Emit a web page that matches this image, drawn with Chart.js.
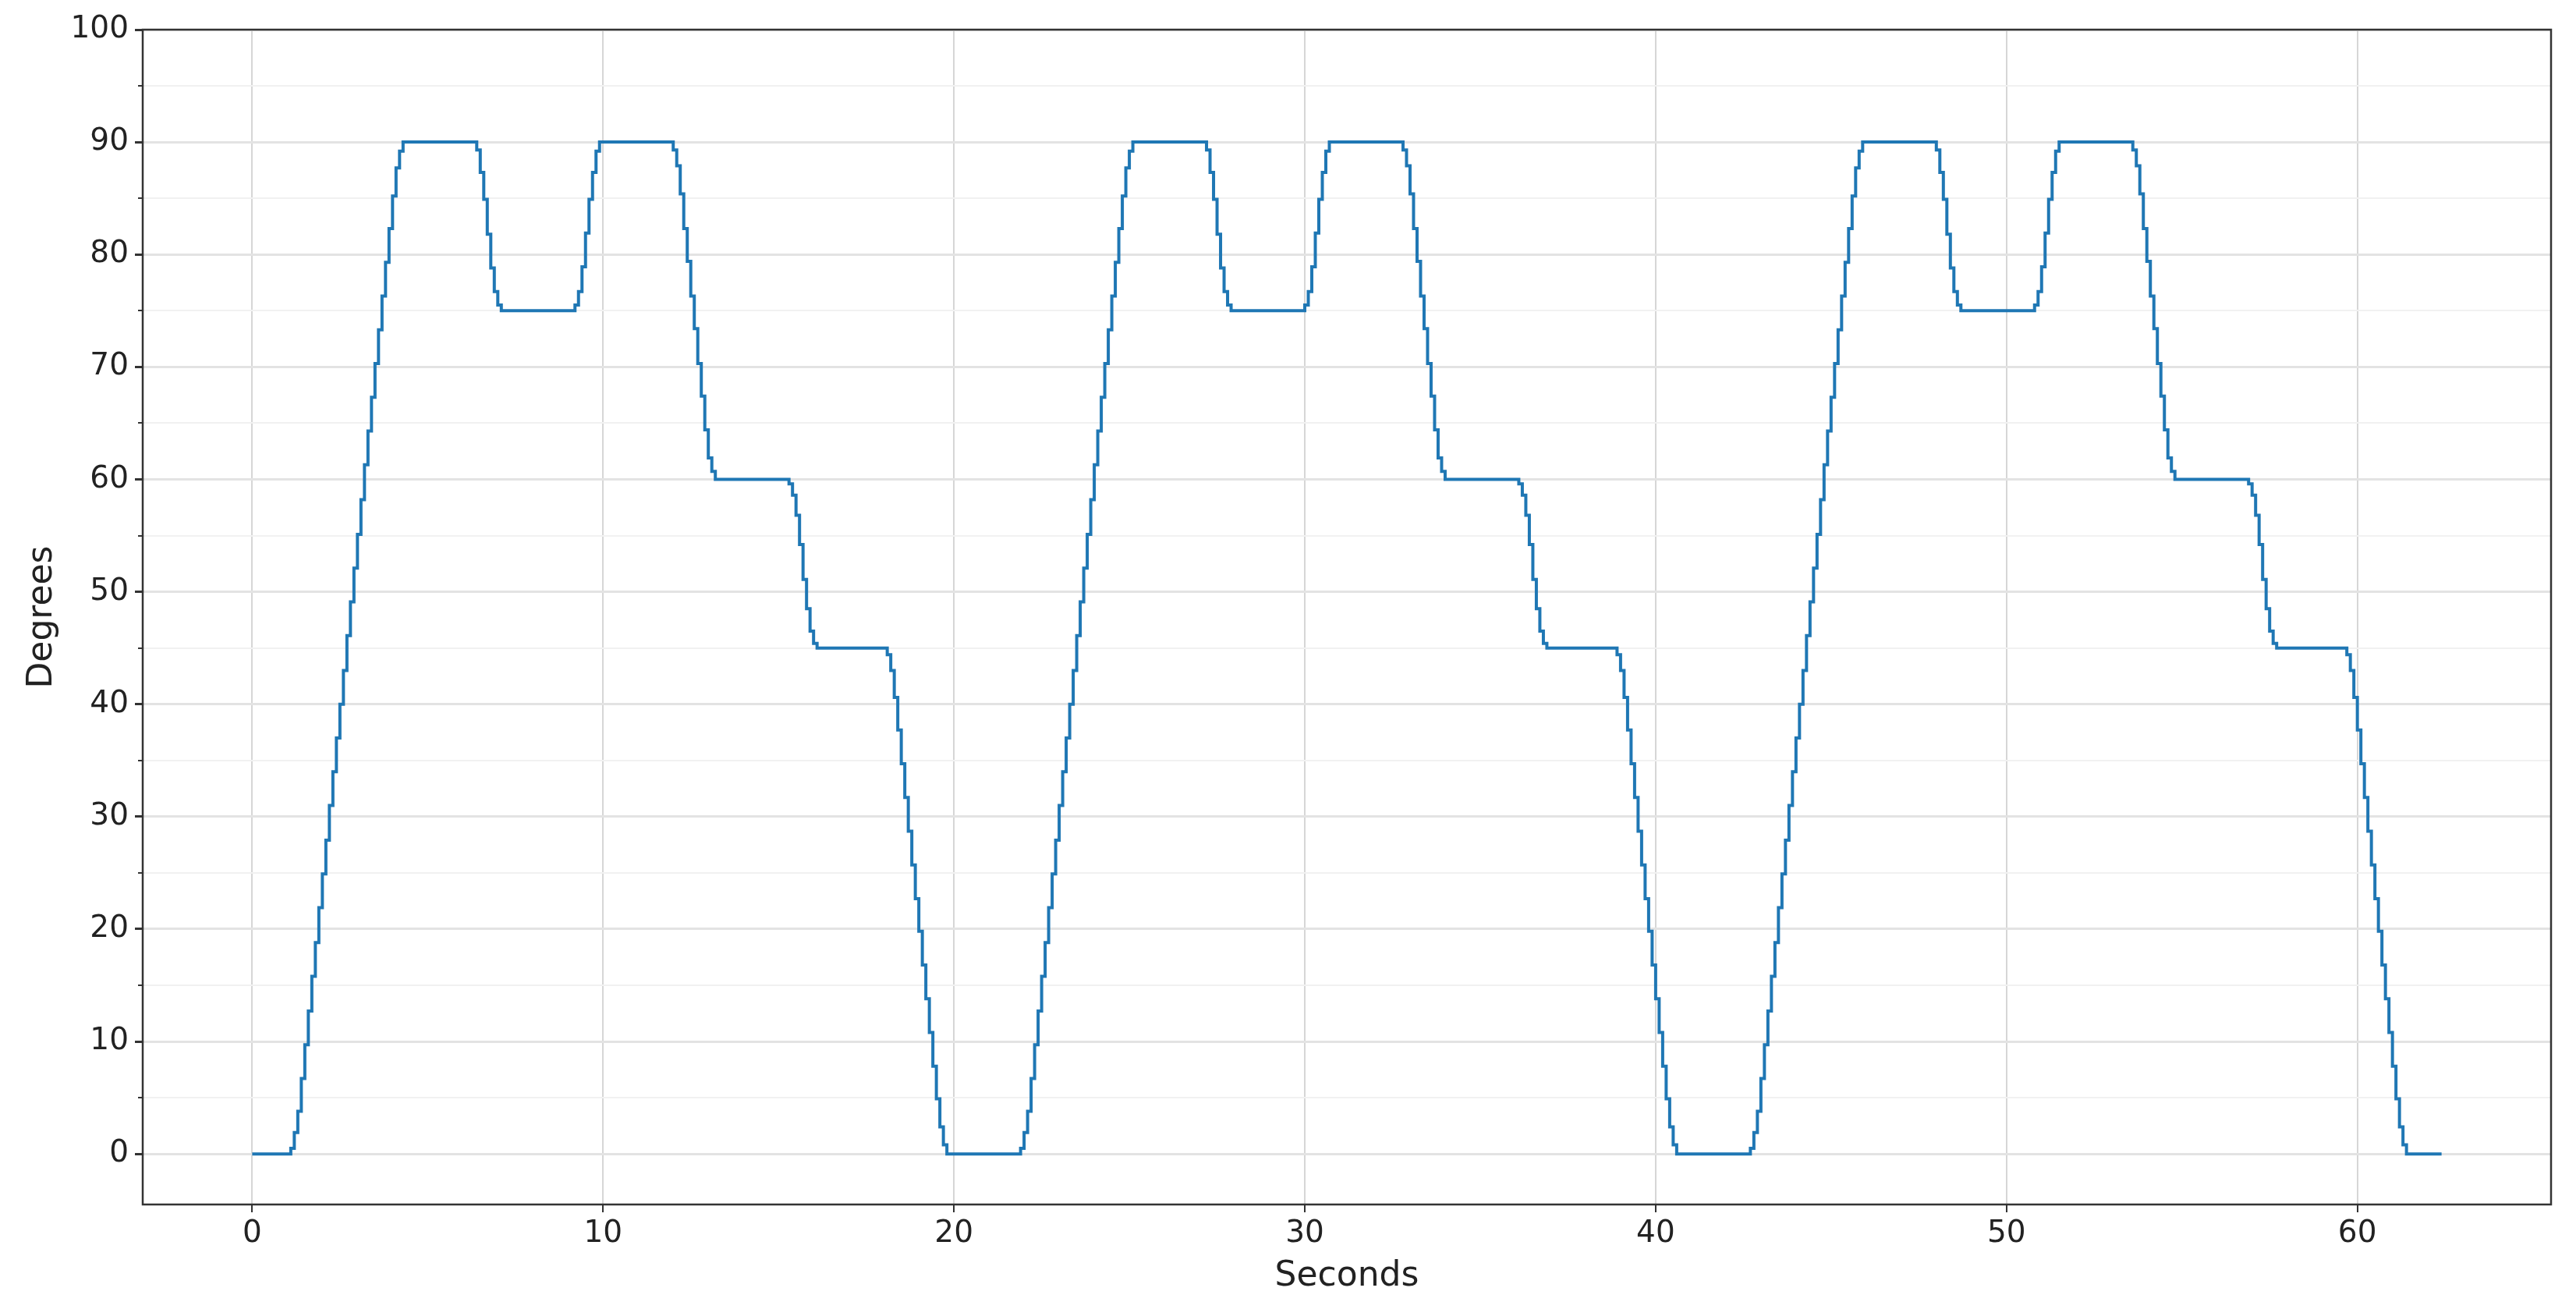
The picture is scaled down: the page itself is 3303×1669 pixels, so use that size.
<!DOCTYPE html>
<html>
<head>
<meta charset="utf-8">
<script src="https://cdn.jsdelivr.net/npm/chart.js@4.4.1/dist/chart.umd.min.js"></script>
<style>
  html, body { margin: 0; padding: 0; background: #fff; }
  #wrap { width: 3303px; height: 1669px; }
</style>
</head>
<body>
<div id="wrap"><canvas id="angleChart"></canvas></div>
<script>
// Winkelverlauf (Treppenkurve): jeder Zyklus hat dieselben Stufenwerte,
// nur die Zeitpunkte der Stufen verschieben sich.

// Stufenwerte eines Zyklus (Grad), in der Reihenfolge der Rampen
const rampDegrees = [
    // 0 -> 90
    0.5, 1.9, 3.8, 6.7, 9.7, 12.7, 15.8, 18.8, 21.9, 24.9, 27.9, 31.0, 34.0, 37.0, 40.0, 43.0, 46.1,
    49.1, 52.1, 55.1, 58.2, 61.3, 64.3, 67.3, 70.3, 73.3, 76.3, 79.3, 82.3, 85.2, 87.7, 89.2, 90,
    // 90 -> 75
    89.3, 87.3, 84.9, 81.8, 78.8, 76.7, 75.5, 75,
    // 75 -> 90
    75.5, 76.7, 78.9, 81.9, 84.9, 87.3, 89.2, 90,
    // 90 -> 60
    89.3, 87.9, 85.4, 82.3, 79.4, 76.3, 73.4, 70.3, 67.4, 64.4, 61.9, 60.7, 60,
    // 60 -> 45
    59.6, 58.6, 56.8, 54.2, 51.1, 48.5, 46.5, 45.4, 45,
    // 45 -> 0
    44.4, 43.0, 40.6, 37.7, 34.7, 31.7, 28.7, 25.7, 22.7, 19.8, 16.8, 13.8, 10.8, 7.8, 4.9, 2.4, 0.8, 0
];

// Zeitpunkte der Stufen (Sekunden)
const cycle1Seconds = [
    1.1, 1.2, 1.3, 1.4, 1.5, 1.6, 1.7, 1.8, 1.9, 2.0, 2.1, 2.2, 2.3, 2.4, 2.5, 2.6, 2.7,
    2.8, 2.9, 3.0, 3.1, 3.2, 3.3, 3.4, 3.5, 3.6, 3.7, 3.8, 3.9, 4.0, 4.1, 4.2, 4.3,
    6.4, 6.5, 6.6, 6.7, 6.8, 6.9, 7.0, 7.1,
    9.2, 9.3, 9.4, 9.5, 9.6, 9.7, 9.8, 9.9,
    12.0, 12.1, 12.2, 12.3, 12.4, 12.5, 12.6, 12.7, 12.8, 12.9, 13.0, 13.1, 13.2,
    15.3, 15.4, 15.5, 15.6, 15.7, 15.8, 15.9, 16.0, 16.1,
    18.1, 18.2, 18.3, 18.4, 18.5, 18.6, 18.7, 18.8, 18.9, 19.0, 19.1, 19.2, 19.3, 19.4, 19.5, 19.6, 19.7, 19.8
];
const cycle2Seconds = [
    21.9, 22.0, 22.1, 22.2, 22.3, 22.4, 22.5, 22.6, 22.7, 22.8, 22.9, 23.0, 23.1, 23.2, 23.3, 23.4, 23.5,
    23.6, 23.7, 23.8, 23.9, 24.0, 24.1, 24.2, 24.3, 24.4, 24.5, 24.6, 24.7, 24.8, 24.9, 25.0, 25.1,
    27.2, 27.3, 27.4, 27.5, 27.6, 27.7, 27.8, 27.9,
    30.0, 30.1, 30.2, 30.3, 30.4, 30.5, 30.6, 30.7,
    32.8, 32.9, 33.0, 33.1, 33.2, 33.3, 33.4, 33.5, 33.6, 33.7, 33.8, 33.9, 34.0,
    36.1, 36.2, 36.3, 36.4, 36.5, 36.6, 36.7, 36.8, 36.9,
    38.9, 39.0, 39.1, 39.2, 39.3, 39.4, 39.5, 39.6, 39.7, 39.8, 39.9, 40.0, 40.1, 40.2, 40.3, 40.4, 40.5, 40.6
];
const cycle3Seconds = [
    42.7, 42.8, 42.9, 43.0, 43.1, 43.2, 43.3, 43.4, 43.5, 43.6, 43.7, 43.8, 43.9, 44.0, 44.1, 44.2, 44.3,
    44.4, 44.5, 44.6, 44.7, 44.8, 44.9, 45.0, 45.1, 45.2, 45.3, 45.4, 45.5, 45.6, 45.7, 45.8, 45.9,
    48.0, 48.1, 48.2, 48.3, 48.4, 48.5, 48.6, 48.7,
    50.8, 50.9, 51.0, 51.1, 51.2, 51.3, 51.4, 51.5,
    53.6, 53.7, 53.8, 53.9, 54.0, 54.1, 54.2, 54.3, 54.4, 54.5, 54.6, 54.7, 54.8,
    56.9, 57.0, 57.1, 57.2, 57.3, 57.4, 57.5, 57.6, 57.7,
    59.7, 59.8, 59.9, 60.0, 60.1, 60.2, 60.3, 60.4, 60.5, 60.6, 60.7, 60.8, 60.9, 61.0, 61.1, 61.2, 61.3, 61.4
];

const startSecond = 0;
const startDegree = 0;
const endSecond = 62.4;
const endDegree = 0;

const xTicks = [0, 10, 20, 30, 40, 50, 60];
const yTicks = [0, 10, 20, 30, 40, 50, 60, 70, 80, 90, 100];
const yMinorTicks = [5, 15, 25, 35, 45, 55, 65, 75, 85, 95];

// Punkte für die Treppenlinie zusammensetzen
let points = [{ x: startSecond, y: startDegree }];
[cycle1Seconds, cycle2Seconds, cycle3Seconds].forEach(secs => {
    for (let i = 0; i < secs.length; i++) {
        points.push({ x: secs[i], y: rampDegrees[i] });
    }
});
points.push({ x: endSecond, y: endDegree });

const tickFont = { family: 'DejaVu Sans', size: 39 };
const titleFont = { family: 'DejaVu Sans', size: 44 };

// Rahmen rundherum + kurze Neben-Ticks an der y-Achse
const frameAndMinorTicks = {
    id: 'frameAndMinorTicks',
    afterDraw(chart) {
        const ctx = chart.ctx;
        const a = chart.chartArea;
        const yScale = chart.scales.y;
        ctx.save();
        ctx.strokeStyle = '#333333';
        ctx.lineWidth = 2;
        yMinorTicks.forEach(v => {
            const py = Math.round(yScale.getPixelForValue(v));
            ctx.beginPath();
            ctx.moveTo(a.left - 6, py);
            ctx.lineTo(a.left, py);
            ctx.stroke();
        });
        ctx.lineWidth = 2.5;
        ctx.strokeRect(a.left, a.top, a.right - a.left, a.bottom - a.top);
        ctx.restore();
    }
};

const config = {
    type: 'line',
    data: {
        datasets: [{
            data: points,
            stepped: true,
            borderColor: '#1f77b4',
            borderWidth: 4,
            pointRadius: 0,
            fill: false
        }]
    },
    options: {
        responsive: true,
        maintainAspectRatio: false,
        animation: false,
        layout: { padding: { left: 0, top: 38, right: 32, bottom: 0 } },
        plugins: {
            legend: { display: false },
            tooltip: { enabled: false }
        },
        scales: {
            x: {
                type: 'linear',
                min: -3.12,
                max: 65.52,
                afterFit: s => { s.height = 125; },
                afterBuildTicks: s => { s.ticks = xTicks.map(v => ({ value: v })); },
                ticks: { font: tickFont, color: '#222222', padding: 4, maxRotation: 0 },
                grid: { color: '#d6d6d6', lineWidth: 2, tickColor: '#333333', tickLength: 10 },
                border: { display: false },
                title: { display: true, text: 'Seconds', font: titleFont, color: '#222222', padding: { top: 4, bottom: 6 } }
            },
            y: {
                type: 'linear',
                min: -4.5,
                max: 100,
                afterFit: s => { s.width = 183; },
                afterBuildTicks: s => {
                    s.ticks = yTicks.concat(yMinorTicks).sort((p, q) => p - q).map(v => ({ value: v }));
                },
                ticks: {
                    font: tickFont,
                    color: '#222222',
                    padding: 8,
                    callback: v => (v % 10 === 0 ? String(v) : '')
                },
                grid: {
                    color: c => (c.tick && c.tick.value % 10 === 0 ? '#e3e3e3' : '#f1f1f1'),
                    lineWidth: c => (c.tick && c.tick.value % 10 === 0 ? 3 : 2),
                    tickColor: c => (c.tick && c.tick.value % 10 === 0 ? '#333333' : 'rgba(0,0,0,0)'),
                    tickLength: 10
                },
                border: { display: false },
                title: { display: true, text: 'Degrees', font: titleFont, color: '#222222', padding: { top: 28, bottom: 4 } }
            }
        }
    },
    plugins: [frameAndMinorTicks]
};

new Chart(document.getElementById('angleChart'), config);
</script>
</body>
</html>
